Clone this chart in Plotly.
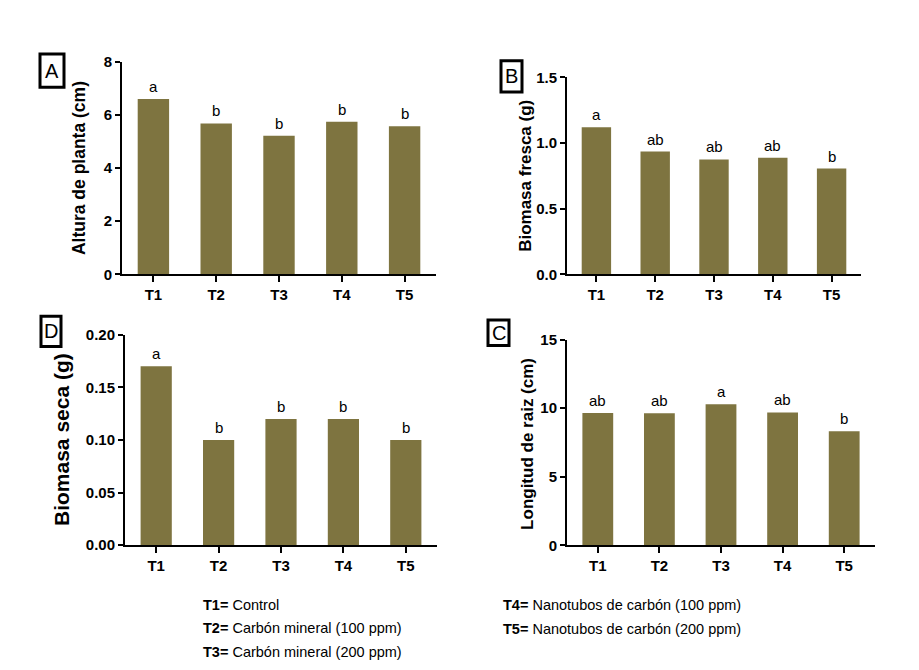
import plotly.graph_objects as go

W, H = 919, 670

treatments = ["T1", "T2", "T3", "T4", "T5"]

altura = [6.6, 5.68, 5.22, 5.74, 5.57]
altura_letters = ["a", "b", "b", "b", "b"]

fresca = [1.12, 0.935, 0.875, 0.888, 0.806]
fresca_letters = ["a", "ab", "ab", "ab", "b"]

seca = [0.17, 0.10, 0.12, 0.12, 0.10]
seca_letters = ["a", "b", "b", "b", "b"]

raiz = [9.64, 9.62, 10.28, 9.69, 8.31]
raiz_letters = ["ab", "ab", "a", "ab", "b"]

BAR = "#7e7440"
FONT = "Liberation Sans, Arial, sans-serif"

def px_x(p):
    return p / W

def px_y(p):
    return 1 - p / H

panels = [
    dict(values=altura, letters=altura_letters, xd=(114, 428), yd=(46, 264), yr=8, dtick=2, fmt="d",
         title="Altura de planta (cm)", tpos=(71, 155), tsize=17.5, label="A", box=(32, 38, 56, 72)),
    dict(values=fresca, letters=fresca_letters, xd=(559, 853), yd=(62, 264), yr=1.5, dtick=0.5, fmt=".1f",
         title="Biomasa fresca (g)", tpos=(518, 163), tsize=17, label="B", box=(493, 45, 514, 77)),
    dict(values=seca, letters=seca_letters, xd=(117, 429), yd=(326, 542), yr=0.2, dtick=0.05, fmt=".2f",
         title="Biomasa seca (g)", tpos=(54, 434), tsize=21, label="D", box=(33, 307, 53, 338)),
    dict(values=raiz, letters=raiz_letters, xd=(559, 867), yd=(331, 542), yr=15, dtick=5, fmt="d",
         title="Longitud de raiz (cm)", tpos=(520, 438), tsize=17, label="C", box=(480, 311, 501, 337)),
]

fig = go.Figure()
annotations = []
shapes = []

for i, p in enumerate(panels, start=1):
    xa = "x" if i == 1 else f"x{i}"
    ya = "y" if i == 1 else f"y{i}"
    fig.add_trace(go.Bar(
        x=treatments, y=p["values"], marker=dict(color=BAR, line=dict(width=0)),
        width=0.5, xaxis=xa, yaxis=ya, showlegend=False,
    ))
    xkey = "xaxis" if i == 1 else f"xaxis{i}"
    ykey = "yaxis" if i == 1 else f"yaxis{i}"
    fig.update_layout(**{
        xkey: dict(
            domain=[px_x(p["xd"][0]), px_x(p["xd"][1])],
            anchor=ya, range=[-0.5, 4.5], type="category",
            showline=True, linecolor="black", linewidth=2,
            ticks="outside", ticklen=6, tickwidth=2, tickcolor="black",
            showgrid=False, zeroline=False,
            tickfont=dict(family=FONT, size=15, color="black", weight="bold"),
            fixedrange=True,
        ),
        ykey: dict(
            domain=[px_y(p["yd"][1]), px_y(p["yd"][0])],
            anchor=xa, range=[0, p["yr"]], dtick=p["dtick"], tick0=0,
            tickformat=p["fmt"],
            showline=True, linecolor="black", linewidth=2,
            ticks="outside", ticklen=5, tickwidth=2, tickcolor="black",
            showgrid=False, zeroline=False,
            tickfont=dict(family=FONT, size=15, color="black", weight="bold"),
            fixedrange=True,
        ),
    })
    for t, v, l in zip(treatments, p["values"], p["letters"]):
        annotations.append(dict(
            x=t, y=v, xref=xa, yref=ya, text=l, showarrow=False,
            yanchor="bottom", yshift=2,
            font=dict(family=FONT, size=15, color="black"),
        ))
    annotations.append(dict(
        x=px_x(p["tpos"][0]), y=px_y(p["tpos"][1]), xref="paper", yref="paper",
        text=f"<b>{p['title']}</b>", textangle=-90, showarrow=False,
        xanchor="center", yanchor="middle",
        font=dict(family=FONT, size=p["tsize"], color="black"),
    ))
    x0, y0, x1, y1 = p["box"]
    shapes.append(dict(
        type="rect", xref="paper", yref="paper",
        x0=px_x(x0), x1=px_x(x1), y0=px_y(y1), y1=px_y(y0),
        line=dict(color="black", width=3), fillcolor="rgba(0,0,0,0)",
    ))
    annotations.append(dict(
        x=px_x((x0 + x1) / 2), y=px_y((y0 + y1) / 2), xref="paper", yref="paper",
        text=p["label"], showarrow=False, xanchor="center", yanchor="middle",
        font=dict(family=FONT, size=20, color="black"),
    ))

legend_lines = [
    ("T1=", "Control", 193, 603),
    ("T2=", "Carbón mineral (100 ppm)", 193, 627),
    ("T3=", "Carbón mineral (200 ppm)", 193, 652),
    ("T4=", "Nanotubos de carbón (100 ppm)", 493, 603),
    ("T5=", "Nanotubos de carbón (200 ppm)", 493, 628),
]
for code, desc, lx, ly in legend_lines:
    annotations.append(dict(
        x=px_x(lx), y=px_y(ly), xref="paper", yref="paper",
        text=f"<b>{code}</b> {desc}", showarrow=False,
        xanchor="left", yanchor="middle",
        font=dict(family=FONT, size=14.5, color="black"),
    ))

fig.update_layout(
    width=W, height=H,
    margin=dict(l=0, r=0, t=0, b=0),
    paper_bgcolor="white", plot_bgcolor="white",
    annotations=annotations, shapes=shapes,
    bargap=0.5,
)

fig.write_html("out.html")
